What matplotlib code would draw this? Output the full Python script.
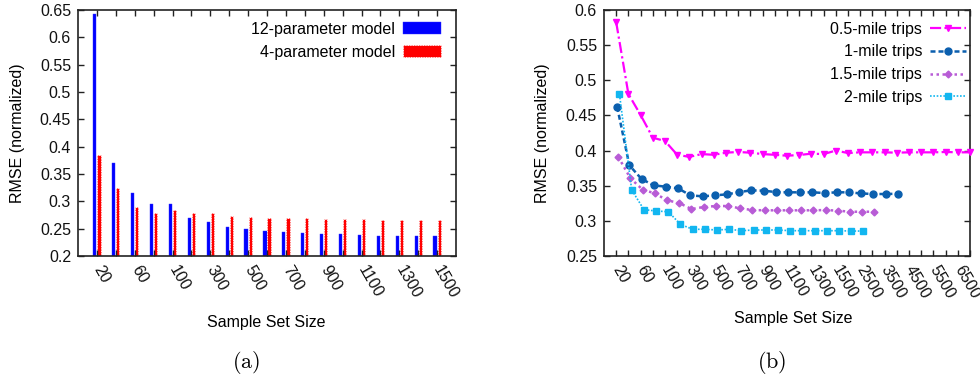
import matplotlib
matplotlib.use('Agg')
import matplotlib.pyplot as plt
import numpy as np

# ---------------- data ----------------
sizes_a = [20, 40, 60, 80, 100, 200, 300, 400, 500, 600, 700, 800, 900,
           1000, 1100, 1200, 1300, 1400, 1500]
rmse_12param = [0.643, 0.370, 0.316, 0.295, 0.295, 0.269, 0.262, 0.253, 0.249,
                0.246, 0.243, 0.242, 0.241, 0.240, 0.239, 0.237, 0.237, 0.236, 0.236]
rmse_4param = [0.385, 0.325, 0.290, 0.279, 0.285, 0.278, 0.278, 0.274, 0.272,
               0.2695, 0.2695, 0.2695, 0.268, 0.268, 0.268, 0.266, 0.266, 0.265, 0.265]

sizes_b = [20, 40, 60, 80, 100, 200, 300, 400, 500, 600, 700, 800, 900, 1000,
           1100, 1200, 1300, 1400, 1500, 2000, 2500, 3000, 3500, 4000, 4500,
           5000, 5500, 6000, 6500, 7000]
trips_05 = [0.5825, 0.4805, 0.4506, 0.4183, 0.4136, 0.394, 0.391, 0.395, 0.394,
            0.397, 0.398, 0.397, 0.395, 0.394, 0.3927, 0.3937, 0.3956, 0.395,
            0.400, 0.3965, 0.3975, 0.3975, 0.3975, 0.397, 0.3975, 0.3975, 0.3975,
            0.398, 0.3975, 0.3975]
trips_1 = [0.462, 0.379, 0.3595, 0.3505, 0.3486, 0.3462, 0.3363, 0.3349, 0.3363,
           0.3377, 0.341, 0.3434, 0.3429, 0.341, 0.3406, 0.3406, 0.3406, 0.3396,
           0.3406, 0.3406, 0.339, 0.3382, 0.3382, 0.3386]
trips_15 = [0.391, 0.3605, 0.3443, 0.3392, 0.3292, 0.3254, 0.3168, 0.3197, 0.3211,
            0.3211, 0.3178, 0.3154, 0.315, 0.315, 0.315, 0.315, 0.315, 0.3154,
            0.3145, 0.313, 0.313, 0.313]
trips_2 = [0.480, 0.344, 0.316, 0.314, 0.313, 0.295, 0.288, 0.288, 0.287, 0.288,
           0.286, 0.287, 0.287, 0.287, 0.286, 0.286, 0.286, 0.286, 0.286, 0.2855,
           0.2855]

series_labels = ['0.5-mile trips', '1-mile trips', '1.5-mile trips', '2-mile trips']
bar_labels = ['12-parameter model', '4-parameter model']

# ---------------- style ----------------
plt.rcParams['font.family'] = ['Liberation Sans', 'DejaVu Sans']
plt.rcParams['mathtext.fontset'] = 'cm'
FS = 11.5

W, H = 980, 383
fig = plt.figure(figsize=(W / 100, H / 100), dpi=100)
axa = fig.add_axes([78 / W, 1 - 256 / H, 378 / W, 246 / H])
axb = fig.add_axes([604 / W, 1 - 256 / H, 366 / W, 246 / H])

for ax in (axa, axb):
    for s in ax.spines.values():
        s.set_linewidth(1.2)
        s.set_color('#222222')
    ax.tick_params(direction='in', top=True, right=True, length=4, width=1,
                   labelsize=FS, colors='#222222', labelcolor='#111111')
    ax.tick_params(axis='y', pad=5)
    ax.tick_params(axis='x', pad=8)

# ---------------- (a) bar chart ----------------
xa = np.arange(len(sizes_a))
bw = 0.17
axa.bar(xa - 0.11, rmse_12param, width=bw, color='#0000ff', edgecolor='#3030ff',
        linewidth=0.3, label=bar_labels[0])
axa.bar(xa + 0.11, rmse_4param, width=bw, color='#ff0000', edgecolor='white',
        linewidth=0.6, linestyle=(0, (1.5, 1.5)), label=bar_labels[1])
axa.set_xlim(-1, len(sizes_a))
axa.set_ylim(0.2, 0.65)
ya = np.arange(0.2, 0.651, 0.05)
axa.set_yticks(ya)
axa.set_yticklabels(['%g' % round(v, 2) for v in ya])
axa.set_xticks(xa)
axa.set_xticklabels([str(s) if i % 2 == 0 else '' for i, s in enumerate(sizes_a)])
axa.set_ylabel('RMSE (normalized)', fontsize=FS, va='center')
axa.set_xlabel('Sample Set Size', fontsize=FS, va='center')
axa.yaxis.set_label_coords((18 - 78) / 378, 0.5)
axa.xaxis.set_label_coords((266 - 78) / 378, (256 - 323) / 246)
axa.legend(loc='upper right', bbox_to_anchor=(0.960, 0.952), frameon=False,
           markerfirst=False, fontsize=FS, handlelength=2.36, handleheight=0.82,
           handletextpad=0.5, labelspacing=0.5, borderpad=0, borderaxespad=0)

# ---------------- (b) line chart ----------------
xb = np.arange(len(sizes_b))
styles = [
    dict(color='#ff00ff', linestyle=(0, (5, 1.5, 1, 1.5)), marker='v', ms=5, lw=1.6),
    dict(color='#0b5fae', linestyle=(0, (2, 1.2)), marker='o', ms=5, lw=1.8),
    dict(color='#b85cd6', linestyle=(0, (1, 1.4)), marker='D', ms=3.5, lw=1.8),
    dict(color='#12b6f0', linestyle=(0, (1, 1)), marker='s', ms=4.5, lw=1.2),
]
offsets = [0.0, 0.08, 0.17, 0.27]
for ys, st, lab, off in zip([trips_05, trips_1, trips_15, trips_2], styles,
                            series_labels, offsets):
    x = xb[:len(ys)] + off
    axb.plot(x, ys, color=st['color'], linestyle=st['linestyle'], lw=st['lw'],
             marker=st['marker'], ms=st['ms'], mec=st['color'], mfc=st['color'],
             label=lab, clip_on=False, zorder=3)
axb.set_xlim(-1, len(sizes_b) - 1)
axb.set_ylim(0.25, 0.6)
yb = np.arange(0.25, 0.601, 0.05)
axb.set_yticks(yb)
axb.set_yticklabels(['%g' % round(v, 2) for v in yb])
axb.set_xticks(xb)
axb.set_xticklabels([str(s) if i % 2 == 0 else '' for i, s in enumerate(sizes_b)])
axb.set_ylabel('RMSE (normalized)', fontsize=FS, va='center')
axb.set_xlabel('Sample Set Size', fontsize=FS, va='center')
axb.yaxis.set_label_coords((543 - 604) / 366, 0.5)
axb.xaxis.set_label_coords((793 - 604) / 366, (256 - 318) / 246)
axb.legend(loc='upper right', bbox_to_anchor=(0.989, 0.952), frameon=False,
           markerfirst=False, fontsize=FS, handlelength=2.25,
           handletextpad=0.5, labelspacing=0.48, borderpad=0, borderaxespad=0)

for ax in (axa, axb):
    for lbl in ax.get_xticklabels():
        lbl.set_rotation(-60)
        lbl.set_ha('left')
        lbl.set_va('center')
        lbl.set_rotation_mode('anchor')

fig.text(246 / W, 1 - 362 / H, r'$\mathrm{(a)}$', ha='center', va='center', fontsize=16)
fig.text(772 / W, 1 - 362 / H, r'$\mathrm{(b)}$', ha='center', va='center', fontsize=16)

fig.savefig('out.png', dpi=100)
